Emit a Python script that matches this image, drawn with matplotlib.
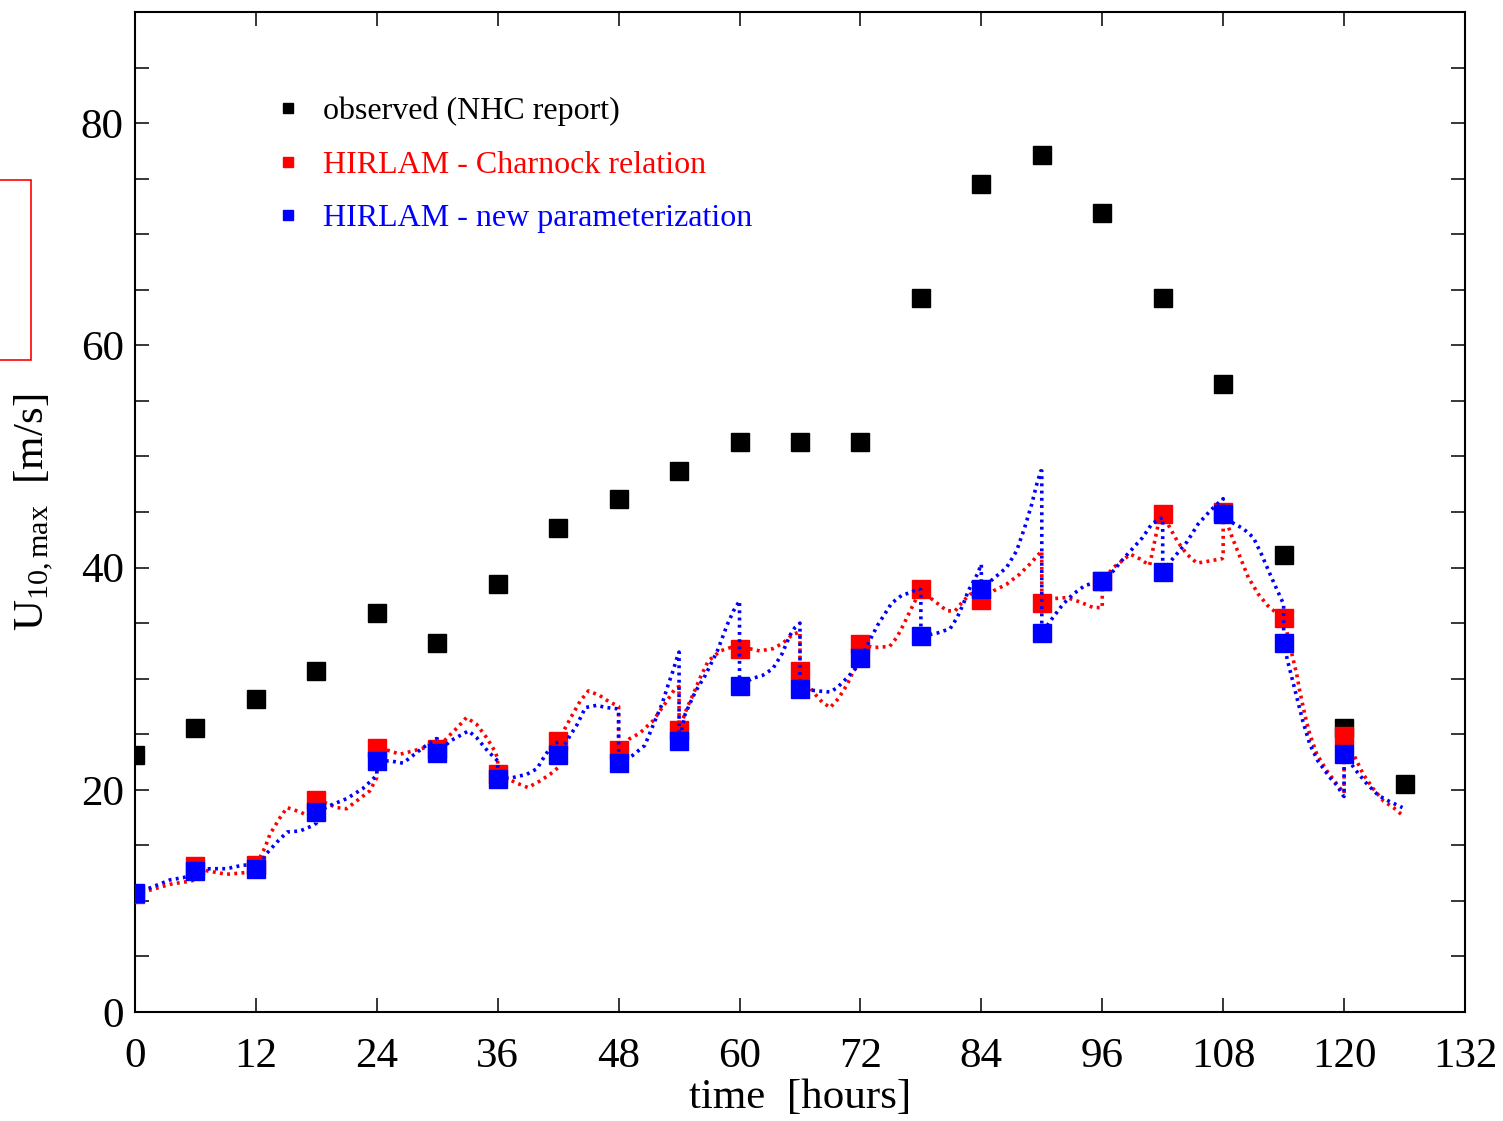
import matplotlib
matplotlib.use("Agg")
import matplotlib.pyplot as plt
from matplotlib.lines import Line2D
from matplotlib.patches import Rectangle

plt.rcParams['font.family'] = ['Liberation Serif', 'DejaVu Serif']
plt.rcParams['mathtext.fontset'] = 'custom'
plt.rcParams['mathtext.rm'] = 'Liberation Serif'
plt.rcParams['mathtext.it'] = 'Liberation Serif:italic'

# ---------------- data ----------------
obs_t = [0, 6, 12, 18, 24, 30, 36, 42, 48, 54, 60, 66, 72, 78, 84, 90, 96, 102, 108, 114, 120, 126]
obs_v = [23.1, 25.6, 28.2, 30.7, 35.9, 33.2, 38.5, 43.6, 46.2, 48.7, 51.3, 51.3, 51.3, 64.3,
         74.5, 77.1, 71.9, 64.3, 56.5, 41.1, 25.6, 20.5]

mod_t = [0, 6, 12, 18, 24, 30, 36, 42, 48, 54, 60, 66, 72, 78, 84, 90, 96, 102, 108, 114, 120]
red_m = [10.6, 13.1, 13.2, 19.1, 23.8, 23.7, 21.4, 24.4, 23.6, 25.4, 32.7, 30.7, 33.1, 38.1,
         37.1, 36.8, 38.8, 44.8, 45.0, 35.5, 24.8]
blue_m = [10.7, 12.7, 12.9, 18.0, 22.6, 23.3, 21.0, 23.1, 22.4, 24.4, 29.3, 29.1, 31.9, 33.8,
          38.1, 34.1, 38.8, 39.6, 44.8, 33.2, 23.2]

red_line_t = [0, 1.2, 3.5, 5.6, 6,
              6, 7.2, 9.1, 10.4, 11.4, 12,
              12, 12.9, 13.4, 14.4, 15.1, 16.4, 17.1, 18,
              18, 19.0, 20.0, 21.0, 22.3, 23.3, 24,
              24, 25.3, 26.3, 27.6, 28.8, 29.6, 30,
              30, 31.0, 32.0, 32.9, 33.9, 34.9, 35.7, 36,
              36, 37.9, 39.0, 40.2, 41.2, 42,
              42, 42.9, 43.5, 44.2, 45.0, 46.1, 47.1, 47.8, 48,
              48, 49.1, 50.1, 51.4, 52.8, 53.6, 54,
              54, 54.8, 55.4, 56.1, 56.9, 58.1, 59.1, 60,
              60, 61.0, 62.0, 63.3, 64.3, 65.3, 66,
              66, 67.3, 68.2, 69.0, 69.8, 70.7, 71.3, 72,
              72, 73.3, 74.9, 75.6, 76.3, 77.1, 77.6, 78,
              78, 78.9, 79.9, 80.6, 81.4, 82.2, 82.9, 84,
              84, 85.2, 86.5, 87.8, 88.8, 89.8, 90,
              90, 91.1, 92.5, 93.8, 95.1, 96,
              96, 97.1, 98.8, 99.7, 100.7, 101.7, 102,
              102, 102.7, 103.5, 104.4, 105.4, 106.7, 107.9, 108,
              108, 108.9, 109.7, 110.5, 111.5, 112.4, 113.3, 114,
              114, 114.8, 115.3, 115.6, 116.1, 116.6, 117.3, 118.3, 119.3, 119.9, 120,
              120, 121.1, 121.9, 122.9, 123.9, 124.9, 125.8]
red_line_v = [10.6, 10.9, 11.5, 11.8, 11.9,
              13.1, 12.7, 12.4, 12.5, 12.6, 12.7,
              13.2, 14.8, 16.0, 17.5, 18.4, 18.0, 17.7, 17.4,
              19.1, 18.8, 18.4, 18.3, 19.2, 19.9, 21.1,
              23.8, 23.5, 23.2, 23.5, 23.8, 24.3, 24.4,
              23.7, 24.7, 25.6, 26.5, 25.9, 24.7, 23.5, 22.8,
              21.4, 20.6, 20.2, 20.8, 21.4, 22.0,
              24.4, 25.9, 26.9, 28.0, 28.9, 28.5, 27.9, 27.6, 27.5,
              23.6, 24.6, 25.1, 26.2, 28.0, 29.1, 29.3,
              25.4, 27.4, 28.6, 30.1, 31.6, 32.5, 32.8, 32.7,
              32.7, 32.7, 32.5, 32.7, 33.2, 34.0, 34.2,
              30.7, 28.8, 27.9, 27.4, 28.2, 29.5, 30.7, 31.5,
              33.1, 32.8, 32.9, 33.7, 34.9, 36.4, 37.3, 38.1,
              38.1, 37.3, 36.6, 36.1, 36.1, 37.0, 37.6, 37.9,
              37.1, 37.9, 38.5, 39.4, 40.3, 41.3, 41.5,
              36.8, 37.2, 37.3, 36.9, 36.4, 36.4,
              38.8, 40.0, 41.2, 40.8, 40.2, 44.5, 44.8,
              44.8, 43.6, 42.3, 41.2, 40.4, 40.6, 40.8, 41.0,
              45.0, 42.7, 40.9, 39.1, 37.6, 36.6, 35.9, 35.5,
              35.5, 32.3, 30.4, 28.9, 26.8, 25.0, 23.2, 21.7, 20.5, 19.8, 19.7,
              24.8, 22.9, 21.4, 20.1, 19.0, 18.4, 17.7]

blue_line_t = [0, 1.3, 3.5, 4.8, 6,
               6, 7.4, 9.1, 10.6, 12,
               12, 13.1, 14.1, 15.1, 16.4, 17.7, 18,
               18, 19.4, 21.0, 22.6, 24,
               24, 25.3, 26.6, 27.6, 28.6, 29.9, 30,
               30, 31.3, 32.3, 33.1, 33.9, 35.0, 36,
               36, 37.5, 38.9, 39.9, 40.7, 41.5, 42,
               42, 43.2, 43.9, 44.7, 45.8, 46.8, 47.8, 48,
               48, 49.4, 50.6, 51.6, 52.3, 52.9, 53.4, 53.9, 54,
               54, 54.6, 55.6, 56.6, 57.8, 58.8, 59.4, 60,
               60, 61.2, 62.3, 63.3, 64.2, 65.0, 65.5, 66,
               66, 67.7, 69.0, 69.7, 70.7, 71.5, 72,
               72, 72.9, 73.7, 74.4, 75.1, 76.1, 77.1, 77.7, 78,
               78, 79.6, 80.9, 81.6, 82.2, 82.7, 83.6, 84,
               84, 85.2, 86.5, 87.5, 88.3, 89.0, 89.5, 89.9, 90,
               90, 91.1, 92.1, 93.1, 94.3, 96,
               96, 97.1, 98.1, 99.0, 100.0, 100.9, 101.7, 102,
               102, 103.0, 104.4, 105.5, 106.7, 107.5, 108,
               108, 109.0, 110.0, 111.0, 111.8, 112.8, 113.6, 114,
               114, 114.4, 114.9, 115.4, 115.9, 116.6, 117.4, 118.6, 119.3, 119.9, 120,
               120, 121.3, 122.3, 123.4, 124.4, 125.8]
blue_line_v = [10.7, 11.1, 11.9, 12.1, 12.4,
               12.7, 12.9, 12.9, 13.2, 13.3,
               12.9, 14.3, 15.3, 16.2, 16.3, 16.8, 17.0,
               18.0, 18.6, 19.2, 20.1, 21.3,
               22.6, 22.6, 22.4, 23.1, 23.8, 24.6, 24.6,
               23.3, 24.4, 24.9, 25.3, 24.7, 23.5, 22.6,
               21.0, 21.1, 21.4, 21.9, 23.1, 24.1, 24.3,
               23.1, 24.9, 25.9, 27.4, 27.6, 27.4, 27.3, 27.2,
               22.4, 23.1, 24.0, 26.2, 27.7, 29.4, 30.7, 32.2, 32.4,
               24.4, 26.8, 28.8, 30.3, 32.5, 34.9, 36.1, 37.0,
               29.3, 30.0, 30.3, 30.9, 32.2, 33.9, 34.6, 35.0,
               29.1, 28.9, 28.8, 29.2, 30.1, 30.9, 31.9,
               31.9, 33.4, 34.8, 35.8, 36.8, 37.5, 37.8, 38.1, 38.0,
               33.8, 34.1, 34.5, 35.5, 36.7, 37.9, 39.4, 40.3,
               38.1, 39.0, 40.0, 41.5, 43.6, 45.7, 47.5, 48.7, 48.7,
               34.1, 35.5, 36.7, 37.6, 38.4, 38.8,
               38.8, 39.7, 40.8, 41.7, 42.7, 43.9, 44.4, 44.5,
               39.6, 40.8, 42.3, 43.9, 45.1, 45.8, 46.2,
               44.8, 44.0, 43.5, 42.7, 41.2, 39.1, 37.5, 36.7,
               33.2, 31.6, 29.8, 28.0, 26.2, 24.1, 22.6, 21.1, 20.4, 19.5, 19.4,
               23.2, 21.6, 20.5, 19.5, 19.0, 18.4]

legend_labels = ["observed (NHC report)", "HIRLAM - Charnock relation",
                 "HIRLAM - new parameterization"]
x_ticks = [0, 12, 24, 36, 48, 60, 72, 84, 96, 108, 120, 132]
y_ticks = [0, 20, 40, 60, 80]

# ---------------- figure ----------------
fig = plt.figure(figsize=(15.03, 11.21), dpi=100)
ax = fig.add_axes([0.0898, 0.0972, 0.8849, 0.8921])

RED = '#ff0000'
BLUE = '#0000ff'
ms = 13.5
dot = (0, (0.8, 1.2))

ax.plot(obs_t, obs_v, 's', color='black', ms=ms, mec='black', zorder=3)
ax.plot(mod_t, red_m, 's', color=RED, ms=ms, mec=RED, zorder=4)
ax.plot(red_line_t, red_line_v, color=RED, lw=2.6, linestyle=dot, zorder=5)
ax.plot(mod_t, blue_m, 's', color=BLUE, ms=ms, mec=BLUE, zorder=6)
ax.plot(blue_line_t, blue_line_v, color=BLUE, lw=2.6, linestyle=dot, zorder=7)

ax.set_xlim(0, 132)
ax.set_ylim(0, 90)
ax.set_xticks(x_ticks)
ax.set_yticks(y_ticks)
ax.set_yticks(range(0, 91, 5), minor=True)
ax.tick_params(which='both', direction='in', top=True, right=True, length=10, width=1.1,
               labelsize=31, pad=8)
ax.tick_params(axis='x', pad=18)
for s in ax.spines.values():
    s.set_linewidth(1.5)

ax.set_xlabel('time  [hours]', fontsize=31, labelpad=2)
ax.set_ylabel(r'U$_{10,\mathrm{max}}$  [m/s]', fontsize=31, labelpad=18)

handles = [Line2D([], [], marker='s', ls='none', color=c, ms=7)
           for c in ['black', RED, BLUE]]
ax.legend(handles, legend_labels, loc='upper left', bbox_to_anchor=(0.091, 0.931),
          frameon=False, fontsize=23, labelcolor=['black', RED, BLUE],
          handlelength=1.0, handletextpad=0.6, labelspacing=0.75, borderpad=0)

fig.patches.append(Rectangle((-0.01, 1 - 360 / 1121), 31 / 1503 + 0.01, 180 / 1121,
                             transform=fig.transFigure, fill=False, edgecolor=RED,
                             lw=1.2, figure=fig))

fig.savefig('out.png', dpi=100)
